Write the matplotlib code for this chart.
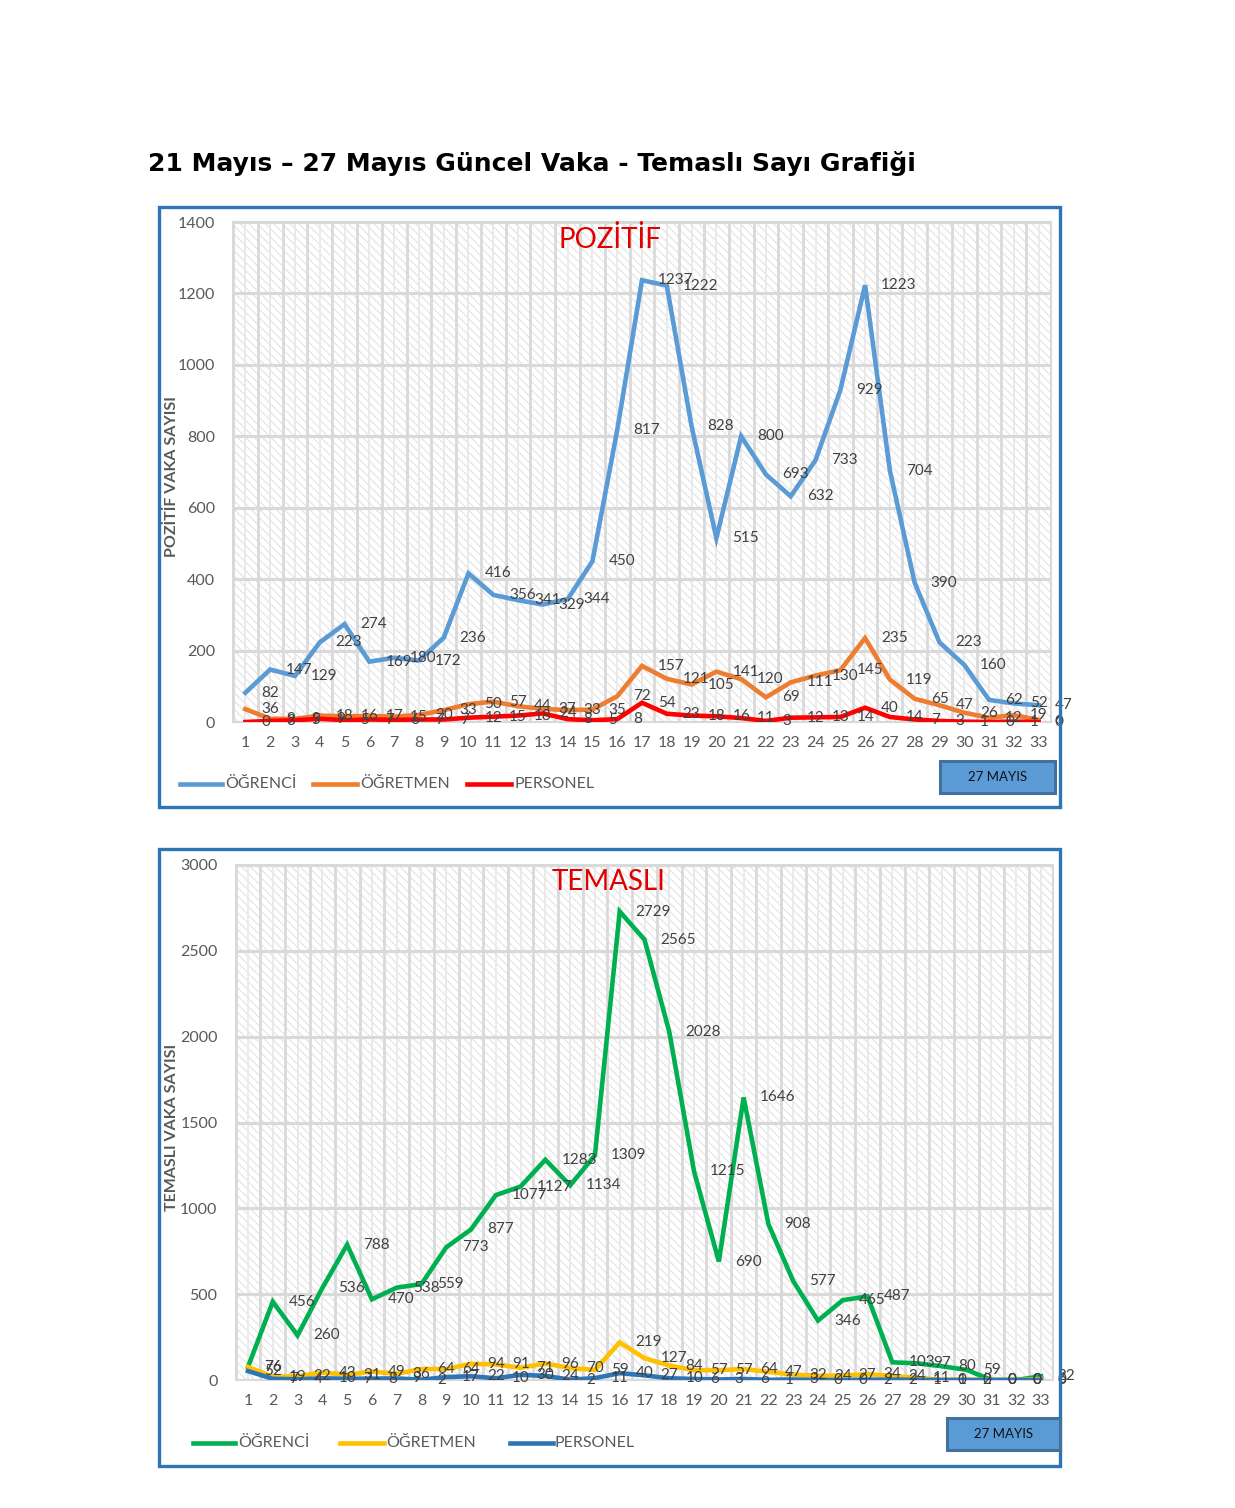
import matplotlib
matplotlib.use('Agg')
import matplotlib.pyplot as plt
import numpy as np
from matplotlib.patches import Rectangle
from matplotlib.lines import Line2D

# ---------------- data ----------------
days = list(range(1, 34))

poz_ogrenci = [82, 147, 129, 223, 274, 169, 180, 172, 236, 416, 356, 341, 329, 344, 450, 817,
               1237, 1222, 828, 515, 800, 693, 632, 733, 929, 1223, 704, 390, 223, 160, 62, 52, 47]
poz_ogretmen = [36, 9, 9, 18, 16, 17, 15, 20, 33, 50, 57, 44, 37, 33, 35, 72,
                157, 121, 105, 141, 120, 69, 111, 130, 145, 235, 119, 65, 47, 26, 12, 19, 6]
poz_personel = [0, 3, 5, 9, 5, 7, 6, 7, 7, 12, 15, 18, 24, 8, 5, 8,
                54, 23, 18, 16, 11, 3, 12, 13, 14, 40, 14, 7, 3, 1, 0, 1, 0]

tem_ogrenci = [76, 456, 260, 536, 788, 470, 538, 559, 773, 877, 1077, 1127, 1283, 1134, 1309, 2729,
               2565, 2028, 1215, 690, 1646, 908, 577, 346, 465, 487, 103, 97, 80, 59, 0, 0, 22]
tem_ogretmen = [76, 19, 22, 43, 31, 49, 36, 64, 64, 94, 91, 71, 96, 70, 59, 219,
                127, 84, 57, 57, 64, 47, 32, 24, 27, 34, 24, 11, 1, 2, 0, 0, 6]
tem_personel = [52, 7, 4, 10, 7, 8, 9, 2, 17, 22, 10, 30, 24, 2, 11, 40,
                27, 10, 6, 3, 6, 1, 3, 0, 0, 2, 2, 1, 0, 0, 0, 0, 0]

series_names = ['ÖĞRENCİ', 'ÖĞRETMEN', 'PERSONEL']
main_title = '21 Mayıs – 27 Mayıs Güncel Vaka - Temaslı Sayı Grafiği'
date_text = '27 MAYIS'

# ---------------- figure ----------------
W, H = 1235, 1508
plt.rcParams['font.family'] = ['Lato', 'DejaVu Sans']
plt.rcParams['hatch.linewidth'] = 0.8
fig = plt.figure(figsize=(W / 100, H / 100), dpi=100)
fig.patch.set_facecolor('white')


def fx(px):
    return px / W


def fy(py):
    return 1 - py / H


TXT = '#595959'
LBL = '#404040'
GRID = '#D9D9D9'

fig.text(fx(148), fy(163), main_title, fontsize=18, fontweight='bold',
         family=['DejaVu Sans'], va='center', ha='left', color='black')


def chart(box, plot, ymax, ystep, data, colors, title, title_xy, ylabel, ylabel_x,
          legend_y, legend_pos, datebox):
    # outer frame
    bx0, by0, bx1, by1 = box
    fig.patches.append(Rectangle((fx(bx0), fy(by1)), fx(bx1) - fx(bx0), fy(by0) - fy(by1),
                                 transform=fig.transFigure, fill=False,
                                 edgecolor='#2E75B6', lw=2.4, zorder=5))
    px0, py_top, px1, py0 = plot
    ax = fig.add_axes([fx(px0), fy(py0), fx(px1) - fx(px0), (py0 - py_top) / H])
    ax.set_xlim(0.5, 33.5)
    ax.set_ylim(0, ymax)
    ax.set_facecolor('white')
    ax.add_patch(Rectangle((0, 0), 1, 1, transform=ax.transAxes, facecolor='white',
                           edgecolor='#E2E2E2', hatch='\\\\\\\\', lw=0, zorder=0))
    ax.set_axisbelow(True)
    ax.set_yticks(np.arange(0, ymax + 1, ystep))
    ax.set_xticks(days)
    ax.set_xticks(np.arange(0.5, 34, 1), minor=True)
    ax.yaxis.grid(True, color=GRID, lw=2.2)
    ax.xaxis.grid(True, which='minor', color=GRID, lw=2.0)
    ax.xaxis.grid(True, which='major', color='#E8E8E8', lw=1.2)
    ax.tick_params(axis='both', which='both', length=0, labelsize=11.5, labelcolor=TXT)
    ax.tick_params(axis='y', pad=13)
    ax.tick_params(axis='x', pad=10)
    for s in ax.spines.values():
        s.set_color(GRID)
        s.set_linewidth(1.5)

    for vals, c in zip(data, colors):
        ax.plot(days, vals, color=c, lw=3.3, solid_joinstyle='miter', zorder=3)
    for vals in data:
        for d, v in zip(days, vals):
            ax.annotate(str(v), (d, v), xytext=(16, 0), textcoords='offset pixels',
                        ha='left', va='center', fontsize=11, color=LBL, zorder=4,
                        annotation_clip=False)

    fig.text(fx(title_xy[0]), fy(title_xy[1]), title, color='#E00000', fontsize=20,
             ha='center', va='center')
    fig.text(fx(ylabel_x), fy((py_top + py0) / 2 + 5), ylabel, rotation=90, fontsize=11.5,
             fontweight='bold', color=TXT, ha='center', va='center')

    # legend
    for (lx0, lx1, tx), name, c in zip(legend_pos, series_names, colors):
        fig.lines.append(Line2D([fx(lx0), fx(lx1)], [fy(legend_y), fy(legend_y)],
                                transform=fig.transFigure, color=c, lw=3.3))
        fig.text(fx(tx), fy(legend_y), name, fontsize=11.5, color=TXT, ha='left', va='center')

    dx0, dy0, dx1, dy1 = datebox
    fig.patches.append(Rectangle((fx(dx0), fy(dy1)), fx(dx1) - fx(dx0), fy(dy0) - fy(dy1),
                                 transform=fig.transFigure, facecolor='#5B9BD5',
                                 edgecolor='#41719C', lw=2.2, zorder=5))
    fig.text(fx((dx0 + dx1) / 2), fy((dy0 + dy1) / 2), date_text, fontsize=9.5,
             color='#111111', ha='center', va='center', zorder=6)
    return ax


chart(box=(159, 207, 1060, 807), plot=(233, 222, 1051, 722), ymax=1400, ystep=200,
      data=[poz_ogrenci, poz_ogretmen, poz_personel],
      colors=['#5B9BD5', '#ED7D31', '#FF0000'],
      title='POZİTİF', title_xy=(610, 239), ylabel='POZİTİF VAKA SAYISI', ylabel_x=172,
      legend_y=784, legend_pos=[(180, 222, 225), (313, 357, 360), (467, 511, 514)],
      datebox=(940, 761, 1055, 793))

chart(box=(159, 849, 1060, 1466), plot=(235.6, 865, 1053.4, 1380), ymax=3000, ystep=500,
      data=[tem_ogrenci, tem_ogretmen, tem_personel],
      colors=['#00B050', '#FFC000', '#2E75B6'],
      title='TEMASLI', title_xy=(609, 882), ylabel='TEMASLI VAKA SAYISI', ylabel_x=172,
      legend_y=1443, legend_pos=[(193, 235, 238), (340, 384, 386), (510, 553, 555)],
      datebox=(947, 1418, 1060, 1450))

fig.savefig('out.png', dpi=100, facecolor='white')
